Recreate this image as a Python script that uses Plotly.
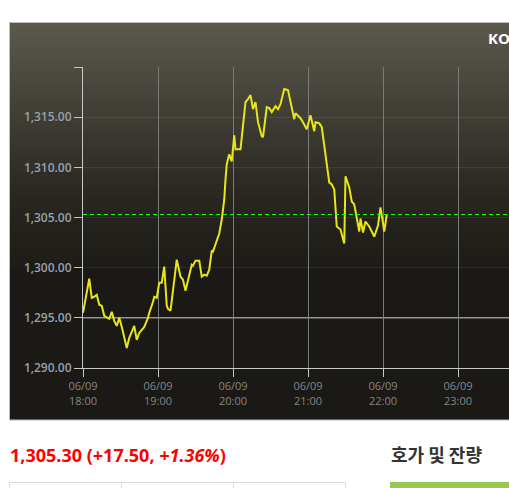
import plotly.graph_objects as go
import pandas as pd

# ---- data ----
date = "2023-06-09"
times = ["18:00","18:05","18:07","18:09","18:11","18:13","18:15","18:17","18:21","18:23",
         "18:25","18:27","18:29","18:31","18:35","18:37","18:41","18:43","18:45","18:49",
         "18:52","18:53","18:56","18:57","18:59","19:01","19:03","19:05","19:07","19:08",
         "19:10","19:15","19:18","19:20","19:22","19:27","19:28","19:30","19:33","19:35",
         "19:37","19:39","19:41","19:43","19:44","19:47","19:49","19:51","19:53","19:54",
         "19:55","19:57","19:59","20:01","20:02","20:06","20:10","20:12","20:14","20:16",
         "20:18","20:20","20:23","20:24","20:27","20:29","20:31","20:34","20:36","20:38",
         "20:41","20:44","20:49","20:50","20:54","20:56","20:59","21:02","21:05","21:06",
         "21:09","21:11","21:14","21:15","21:17","21:19","21:21","21:23","21:26","21:29",
         "21:30","21:33","21:35","21:37","21:39","21:41","21:42","21:44","21:46","21:49",
         "21:53","21:56","21:58","22:01","22:03"]
values = [1295.5, 1298.9, 1297.0, 1297.1, 1297.3, 1296.3, 1296.2, 1295.2, 1294.9, 1295.6,
          1294.7, 1294.2, 1295.0, 1294.1, 1292.0, 1293.0, 1294.2, 1292.8, 1293.5, 1294.1,
          1295.0, 1295.5, 1296.6, 1297.1, 1297.0, 1298.5, 1298.5, 1300.1, 1296.2, 1295.9,
          1295.7, 1300.8, 1299.1, 1298.8, 1297.7, 1300.3, 1300.2, 1300.7, 1300.7, 1299.1,
          1299.3, 1299.2, 1299.8, 1301.7, 1301.6, 1302.8, 1303.4, 1304.8, 1306.8, 1308.8,
          1310.3, 1311.3, 1310.6, 1313.2, 1311.8, 1311.8, 1316.5, 1316.8, 1317.2, 1315.8,
          1316.5, 1314.5, 1313.1, 1313.0, 1316.0, 1315.9, 1315.5, 1316.1, 1315.8, 1316.3,
          1317.8, 1317.7, 1314.8, 1315.4, 1314.9, 1314.5, 1313.8, 1315.2, 1313.6, 1314.5,
          1314.4, 1314.0, 1311.5, 1310.6, 1308.5, 1308.3, 1307.8, 1304.1, 1303.8, 1302.4,
          1309.1, 1308.0, 1306.6, 1306.3, 1304.9, 1303.6, 1304.9, 1303.5, 1304.6, 1304.1,
          1303.1, 1304.2, 1306.0, 1303.6, 1305.3]
current_price = 1305.30
change = 17.50
change_pct = 1.36
ref_level = 1295.0
x_tick_times = ["18:00", "19:00", "20:00", "21:00", "22:00", "23:00"]
x_tick_labels = ["06/09<br>" + t for t in x_tick_times]
y_ticks = [1290, 1295, 1300, 1305, 1310, 1315, 1320]
y_tick_labels = [f"{v:,.2f}" for v in y_ticks[:-1]] + [""]
title_text = "KO"
side_title = "호가 및 잔량"

x_dt = pd.to_datetime([f"{date} {t}" for t in times])
x_start = pd.Timestamp(f"{date} 18:00")

# ---- geometry (pixels) ----
W, H = 509, 488
L, R, T, B = 83, 509, 67, 368
PX_PER_MIN = 1.25
x_end = x_start + pd.Timedelta(minutes=(R - L) / PX_PER_MIN)

def px(x):
    return (x - L) / (R - L)

def py(y):
    return (B - y) / (B - T)

def hex2rgb(h):
    h = h.lstrip("#")
    return tuple(int(h[i:i + 2], 16) for i in (0, 2, 4))

stops = [(22, "#5b584c"), (120, "#3f3c34"), (200, "#28261f"), (270, "#1c1b17"), (421, "#1a1915")]

def color_at(y):
    for (y0, c0), (y1, c1) in zip(stops[:-1], stops[1:]):
        if y0 <= y <= y1:
            t = (y - y0) / (y1 - y0)
            a, b = hex2rgb(c0), hex2rgb(c1)
            return "rgb(%d,%d,%d)" % tuple(round(a[i] + (b[i] - a[i]) * t) for i in range(3))
    return stops[-1][1]

shapes = []
y = 22
while y < 270:
    shapes.append(dict(type="rect", xref="paper", yref="paper", layer="below",
                       x0=px(9), x1=px(510), y0=py(y), y1=py(y + 2.6),
                       fillcolor=color_at(y + 1), line=dict(width=0)))
    y += 2
shapes.append(dict(type="rect", xref="paper", yref="paper", layer="below",
                   x0=px(9), x1=px(510), y0=py(269), y1=py(420),
                   fillcolor="#1a1915", line=dict(width=0)))
# panel border
shapes.append(dict(type="rect", xref="paper", yref="paper", layer="below",
                   x0=px(9.5), x1=px(515), y0=py(22.5), y1=py(420),
                   fillcolor="rgba(0,0,0,0)", line=dict(color="#bdbdbd", width=1)))
# bright reference line
shapes.append(dict(type="line", xref="paper", yref="y", layer="below",
                   x0=0, x1=1, y0=ref_level, y1=ref_level,
                   line=dict(color="#c8c8c8", width=1)))
# current price dashed line
shapes.append(dict(type="line", xref="paper", yref="y", layer="above",
                   x0=0, x1=1, y0=current_price, y1=current_price,
                   line=dict(color="#22ff00", width=1, dash="4px,3px")))
# green bar under side title
shapes.append(dict(type="rect", xref="paper", yref="paper",
                   x0=px(390), x1=px(512), y0=py(482), y1=py(490),
                   fillcolor="#95c94f", line=dict(width=0)))
# table borders
shapes.append(dict(type="line", xref="paper", yref="paper",
                   x0=px(9), x1=px(345.5), y0=py(482.5), y1=py(482.5),
                   line=dict(color="#dcdcdc", width=1)))
for vx in (9.5, 121.5, 233.5, 345.5):
    shapes.append(dict(type="line", xref="paper", yref="paper",
                       x0=px(vx), x1=px(vx), y0=py(482.5), y1=py(490),
                       line=dict(color="#dcdcdc", width=1)))

fig = go.Figure()
fig.add_trace(go.Scatter(x=x_dt, y=values, mode="lines",
                         line=dict(color="#e6e619", width=2), hoverinfo="skip"))

annotations = [
    dict(text=f"<b>{title_text}</b>", xref="paper", yref="paper", x=px(486), y=py(38),
         xanchor="left", yanchor="middle", showarrow=False,
         font=dict(family="Open Sans", size=15, color="#ffffff")),
    dict(text=f"<b>{current_price:,.2f} (+{change:.2f}, <i>+{change_pct:.2f}%</i>)</b>",
         xref="paper", yref="paper", x=px(8), y=py(455),
         xanchor="left", yanchor="middle", showarrow=False,
         font=dict(family="Open Sans", size=18, color="#ff0000")),
    dict(text=f"<b>{side_title}</b>", xref="paper", yref="paper", x=px(389), y=py(454),
         xanchor="left", yanchor="middle", showarrow=False,
         font=dict(family="Noto Sans CJK KR", size=18, color="#333333")),
]

fig.update_layout(
    width=W, height=H,
    margin=dict(l=L, r=W - R, t=T, b=H - B, pad=0),
    paper_bgcolor="#ffffff", plot_bgcolor="rgba(0,0,0,0)",
    showlegend=False,
    shapes=shapes, annotations=annotations,
    xaxis=dict(type="date", range=[x_start, x_end],
               tickvals=pd.to_datetime([f"{date} {t}" for t in x_tick_times]),
               ticktext=x_tick_labels,
               showgrid=True, gridcolor="#7a7a7a", gridwidth=1,
               showline=True, linecolor="#c8c8c8", linewidth=1,
               ticks="outside", ticklen=8, tickcolor="#c8c8c8",
               tickfont=dict(family="Open Sans", size=11, color="#858585"),
               zeroline=False, fixedrange=True),
    yaxis=dict(range=[1290, 1320], tickvals=y_ticks, ticktext=y_tick_labels,
               showgrid=True, gridcolor="rgba(255,255,255,0.08)", gridwidth=1,
               showline=True, linecolor="#c8c8c8", linewidth=1,
               ticks="outside", ticklen=8, tickcolor="#c8c8c8",
               tickfont=dict(family="Open Sans", size=12, color="#99a1ae", weight=600),
               zeroline=False, fixedrange=True),
)

fig.write_html("out.html", config={"displayModeBar": False})
